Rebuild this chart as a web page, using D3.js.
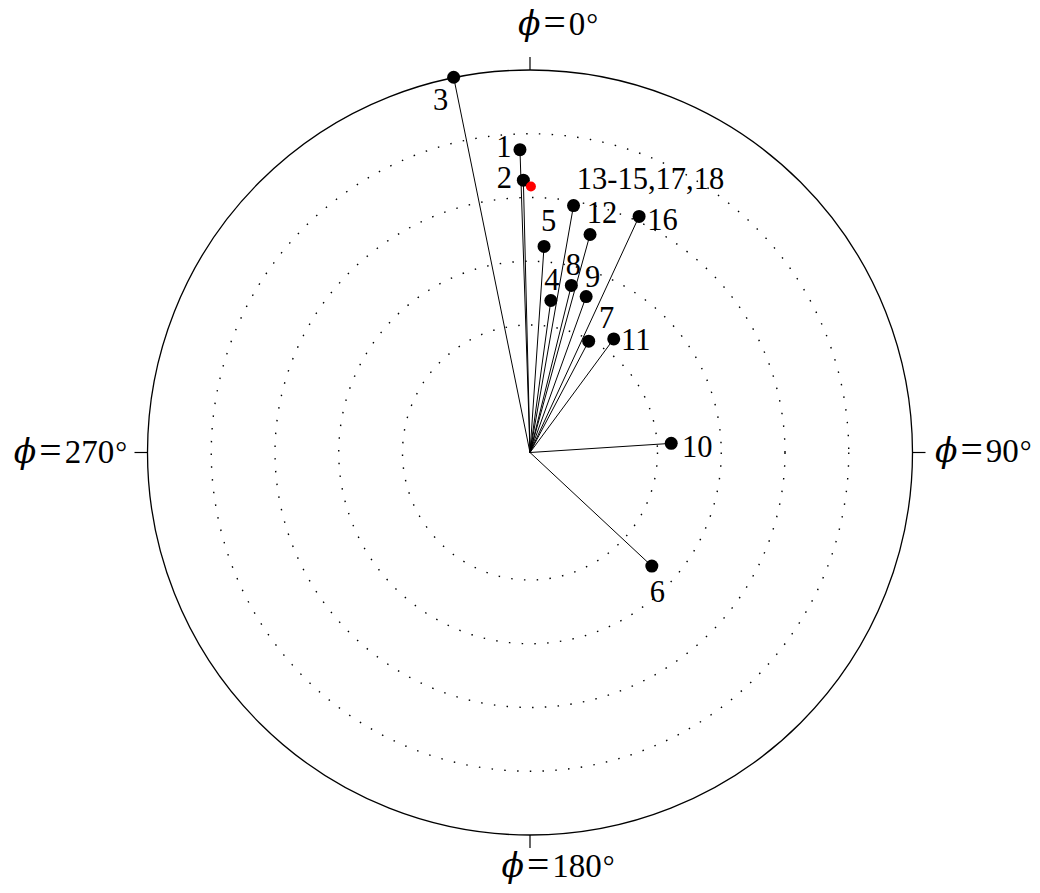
<!DOCTYPE html>
<html>
<head>
<meta charset="utf-8">
<script src="https://cdn.jsdelivr.net/npm/d3@7"></script>
<style>
  html, body { margin: 0; padding: 0; background: #ffffff; }
  svg { display: block; }
  text { font-family: "Liberation Serif", "DejaVu Serif", serif; fill: #000; }
</style>
</head>
<body>
<svg id="chart" width="1040" height="893"></svg>
<script>
// ---- data ----
const pointLabels = ["1", "2", "3", "4", "5", "6", "7", "8", "9", "10", "11", "12", "13-15,17,18", "16"];
const phiDeg      = [358.1, 358.6, 348.5, 7.8, 3.9, 133.0, 27.8, 13.9, 19.8, 86.3, 36.4, 15.4, 10.0, 24.8];
const thetaDeg    = [71.3, 64.1, 90.1, 36.1, 48.6, 39.2, 29.6, 40.5, 39.0, 33.3, 33.2, 53.2, 59.0, 61.2];

const refPhiDeg   = [0.2];
const refThetaDeg = [62.6];

const ringValues  = [30, 45, 60, 75];
const radialMax   = [90];
const axisAngles  = [0, 90, 180, 270];
const axisLabels  = ["0", "90", "180", "270"];

// ---- layout / style config ----
const W = 1040, H = 893;
const cx = 530, cy = 452.5, R = 382.5;
const tickLen = 13;
const ptR = 6.5, refR = 5;
const labelFont = 30.5, axisFont = 33;
// label offsets (text centre x, baseline y) relative to the point
const labelOffset = {
  "1": [-16, 7], "2": [-19, 7.5], "3": [-13, 33], "4": [1, -10.5], "5": [4.5, -15],
  "6": [5.5, 35.5], "7": [18, -13], "8": [2, -10.5], "9": [6.5, -10], "10": [26, 13.5],
  "11": [22, 11], "12": [12, -12], "13-15,17,18": [77, -17], "16": [23.5, 13.5]
};

const svg = d3.select("#chart");
const g = svg.append("g").attr("transform", `translate(${cx},${cy})`);

const r = d3.scaleLinear().domain([0, radialMax[0]]).range([0, R]);
const toRad = d => d * Math.PI / 180;

// dotted rings
g.selectAll("circle.ring").data(ringValues).join("circle")
  .attr("class", "ring")
  .attr("r", d => r(d))
  .attr("fill", "none")
  .attr("stroke", "#000")
  .attr("stroke-width", 1.4)
  .attr("stroke-dasharray", "1.5 11.3");

// outer circle
g.append("circle").attr("r", r(radialMax[0]))
  .attr("fill", "none").attr("stroke", "#000").attr("stroke-width", 1.3);

// cardinal ticks
g.selectAll("line.tick").data(axisAngles).join("line")
  .attr("class", "tick")
  .attr("x1", d => d3.pointRadial(toRad(d), r(radialMax[0]))[0])
  .attr("y1", d => d3.pointRadial(toRad(d), r(radialMax[0]))[1])
  .attr("x2", d => d3.pointRadial(toRad(d), r(radialMax[0]) + tickLen)[0])
  .attr("y2", d => d3.pointRadial(toRad(d), r(radialMax[0]) + tickLen)[1])
  .attr("stroke", "#000").attr("stroke-width", 1.2);

// axis labels
const axisPlace = [
  { x: 28, y: -R - 35, anchor: "middle" },
  { x: R + 22.5, y: 9.5, anchor: "start" },
  { x: 28, y: R + 41.5, anchor: "middle" },
  { x: -R - 20.5, y: 10, anchor: "end" }
];
axisAngles.forEach((a, i) => {
  const p = axisPlace[i];
  const t = g.append("text")
    .attr("x", p.x).attr("y", p.y)
    .attr("text-anchor", p.anchor)
    .attr("font-size", axisFont);
  t.append("tspan").attr("font-style", "italic").attr("font-family", "'DejaVu Serif', serif").attr("font-size", axisFont).text("ϕ");
  t.append("tspan").attr("dx", 3).attr("font-size", axisFont * 1.2).attr("dy", 1).text("=");
  t.append("tspan").attr("dx", 3).attr("dy", -1).text(axisLabels[i]);
  t.append("tspan").attr("dx", 1).attr("font-size", axisFont * 0.9).attr("dy", -1).text("°");
});

// data
const pts = pointLabels.map((lab, i) => {
  const [x, y] = d3.pointRadial(toRad(phiDeg[i]), r(thetaDeg[i]));
  return { lab, x, y };
});

// spokes
g.selectAll("line.spoke").data(pts).join("line")
  .attr("class", "spoke")
  .attr("x1", 0).attr("y1", 0)
  .attr("x2", d => d.x).attr("y2", d => d.y)
  .attr("stroke", "#000").attr("stroke-width", 1);

// points
g.selectAll("circle.pt").data(pts).join("circle")
  .attr("class", "pt")
  .attr("cx", d => d.x).attr("cy", d => d.y)
  .attr("r", ptR).attr("fill", "#000");

// reference (red) point
const refPts = refPhiDeg.map((p, i) => d3.pointRadial(toRad(p), r(refThetaDeg[i])));
g.selectAll("circle.ref").data(refPts).join("circle")
  .attr("class", "ref")
  .attr("cx", d => d[0]).attr("cy", d => d[1])
  .attr("r", refR).attr("fill", "#ff0000");

// point labels
g.selectAll("text.plab").data(pts).join("text")
  .attr("class", "plab")
  .attr("x", d => d.x + labelOffset[d.lab][0])
  .attr("y", d => d.y + labelOffset[d.lab][1])
  .attr("text-anchor", "middle")
  .attr("font-size", labelFont)
  .text(d => d.lab);
</script>
</body>
</html>
